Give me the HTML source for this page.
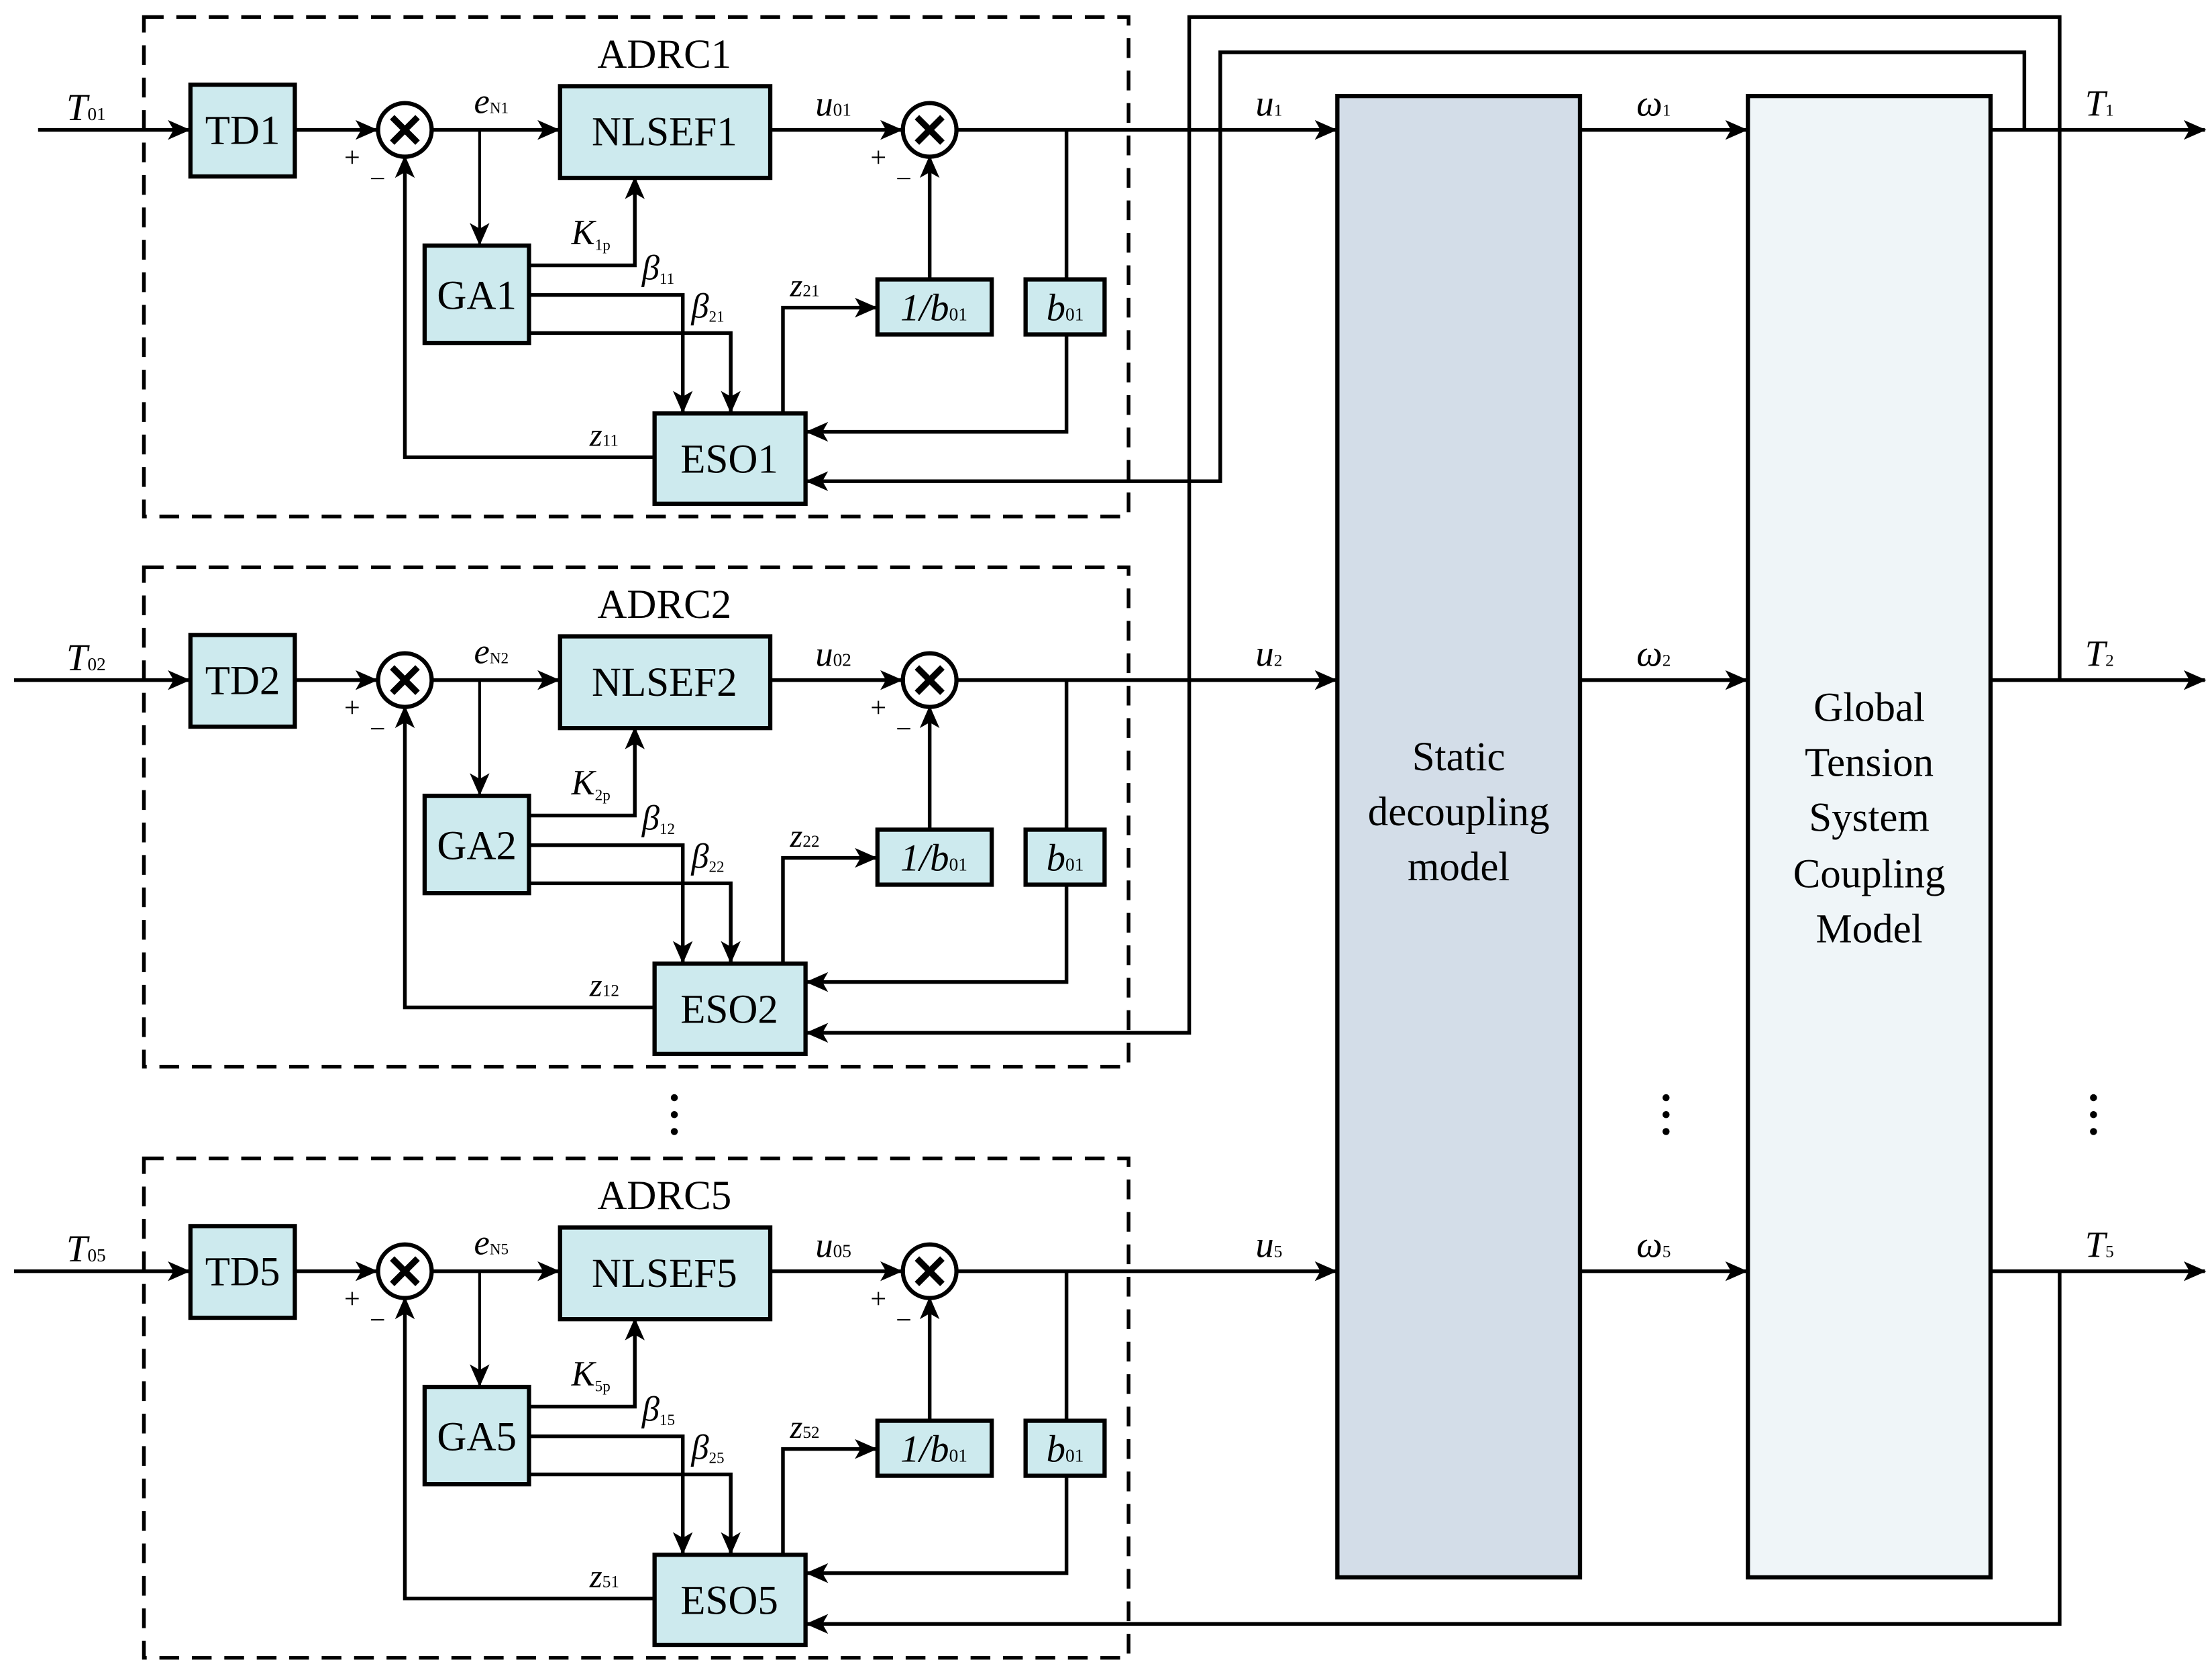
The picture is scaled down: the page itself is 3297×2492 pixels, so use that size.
<!DOCTYPE html>
<html><head><meta charset="utf-8"><style>
html,body{margin:0;padding:0;background:#fff;}
svg{display:block;}
svg text{font-family:"Liberation Serif","Times New Roman",serif;fill:#000;}
.it{font-style:italic;}
</style></head><body>
<svg width="3297" height="2492" viewBox="0 0 1568 1185" xmlns="http://www.w3.org/2000/svg" font-family="Liberation Serif, serif">
<defs>
<marker id="a" markerUnits="userSpaceOnUse" markerWidth="16" markerHeight="14" refX="15" refY="7" orient="auto">
<path d="M0,0 L16,7 L0,14 L4,7 Z" fill="#000"/>
</marker>
<g id="blk" fill="none" stroke="#000" stroke-width="2.6">
<rect x="102" y="12" width="698" height="354" stroke-dasharray="14,9" stroke-width="2.6"/>
<g fill="#cdeaee" stroke-width="3">
<rect x="135" y="60" width="74" height="65"/>
<rect x="397" y="61" width="149" height="65"/>
<rect x="301" y="174" width="74" height="69"/>
<rect x="464" y="293" width="107" height="64"/>
<rect x="622" y="198" width="81" height="39"/>
<rect x="727" y="198" width="56" height="39"/>
</g>
<circle cx="287" cy="92" r="19" fill="#fff" stroke-width="3"/>
<path d="M278,83 L296,101 M296,83 L278,101" stroke-width="4.5"/>
<circle cx="659" cy="92" r="19" fill="#fff" stroke-width="3"/>
<path d="M650,83 L668,101 M668,83 L650,101" stroke-width="4.5"/>
<path d="M209,92 H267" marker-end="url(#a)"/>
<path d="M306,92 H396" marker-end="url(#a)"/>
<path d="M546,92 H639" marker-end="url(#a)"/>
<path d="M678,92 H947" marker-end="url(#a)"/>
<path d="M340,92 V173" marker-end="url(#a)" stroke-width="2"/>
<path d="M375,188 H450 V126" marker-end="url(#a)"/>
<path d="M375,209 H484 V292" marker-end="url(#a)"/>
<path d="M375,236 H518 V292" marker-end="url(#a)"/>
<path d="M555,293 V218 H621" marker-end="url(#a)"/>
<path d="M464,324 H287 V111" marker-end="url(#a)"/>
<path d="M659,198 V111" marker-end="url(#a)"/>
<path d="M756,92 V198 M756,237 V306 H572" marker-end="url(#a)"/>
</g>
</defs>

<use href="#blk"/>
<use href="#blk" transform="translate(0,390)"/>
<use href="#blk" transform="translate(0,809)"/>

<g fill="none" stroke="#000" stroke-width="2.6">
<path d="M27,92 H134" marker-end="url(#a)"/>
<path d="M10,482 H134" marker-end="url(#a)"/>
<path d="M10,901 H134" marker-end="url(#a)"/>
<rect x="948" y="68" width="172" height="1050" fill="#d3dde8" stroke-width="3"/>
<rect x="1239" y="68" width="172" height="1050" fill="#eff5f8" stroke-width="3"/>
<path d="M1120,92 H1238" marker-end="url(#a)"/>
<path d="M1120,482 H1238" marker-end="url(#a)"/>
<path d="M1120,901 H1238" marker-end="url(#a)"/>
<path d="M1411,92 H1563" marker-end="url(#a)"/>
<path d="M1411,482 H1563" marker-end="url(#a)"/>
<path d="M1411,901 H1563" marker-end="url(#a)"/>
<path d="M1435,92 V37 H865 V341 H572" marker-end="url(#a)"/>
<path d="M1460,482 V12 H843 V732 H572" marker-end="url(#a)"/>
<path d="M1460,901 V1151 H572" marker-end="url(#a)"/>
</g>
<g fill="#000">
<circle cx="478" cy="778" r="2.5"/><circle cx="478" cy="790" r="2.5"/><circle cx="478" cy="802" r="2.5"/>
<circle cx="1181" cy="778" r="2.5"/><circle cx="1181" cy="790" r="2.5"/><circle cx="1181" cy="802" r="2.5"/>
<circle cx="1484" cy="778" r="2.5"/><circle cx="1484" cy="790" r="2.5"/><circle cx="1484" cy="802" r="2.5"/>
</g>

<g font-size="29" text-anchor="middle">
<text x="1034" y="546">Static</text>
<text x="1034" y="585">decoupling</text>
<text x="1034" y="624">model</text>
<text x="1325" y="511">Global</text>
<text x="1325" y="550">Tension</text>
<text x="1325" y="589">System</text>
<text x="1325" y="629">Coupling</text>
<text x="1325" y="668">Model</text>
</g>

<g font-size="26">
<text x="890" y="82" class="it">u<tspan font-size="12" font-style="normal">1</tspan></text>
<text x="890" y="472" class="it">u<tspan font-size="12" font-style="normal">2</tspan></text>
<text x="890" y="891" class="it">u<tspan font-size="12" font-style="normal">5</tspan></text>
<text x="1160" y="82" class="it">ω<tspan font-size="12" font-style="normal">1</tspan></text>
<text x="1160" y="472" class="it">ω<tspan font-size="12" font-style="normal">2</tspan></text>
<text x="1160" y="891" class="it">ω<tspan font-size="12" font-style="normal">5</tspan></text>
<text x="1478" y="82" class="it">T<tspan font-size="12" font-style="normal">1</tspan></text>
<text x="1478" y="472" class="it">T<tspan font-size="12" font-style="normal">2</tspan></text>
<text x="1478" y="891" class="it">T<tspan font-size="12" font-style="normal">5</tspan></text>
</g>

<g font-size="29">
<text x="471" y="48" text-anchor="middle">ADRC1</text>
<text x="172" y="102" text-anchor="middle">TD1</text>
<text x="471" y="103" text-anchor="middle">NLSEF1</text>
<text x="338" y="219" text-anchor="middle">GA1</text>
<text x="517" y="335" text-anchor="middle">ESO1</text>
<text x="662" y="227" text-anchor="middle" class="it" font-size="27">1/b<tspan font-size="13" font-style="normal">01</tspan></text>
<text x="755" y="227" text-anchor="middle" class="it" font-size="27">b<tspan font-size="13" font-style="normal">01</tspan></text>
<text x="47" y="85" class="it" font-size="27">T<tspan font-size="13" font-style="normal">01</tspan></text>
<text x="336" y="80" class="it" font-size="25">e<tspan font-size="11" font-style="normal">N1</tspan></text>
<text x="578" y="82" class="it" font-size="25">u<tspan font-size="13" font-style="normal">01</tspan></text>
<text x="405" y="173" class="it" font-size="25">K<tspan font-size="11" font-style="normal" dy="4">1p</tspan></text>
<text x="455" y="198" class="it" font-size="25">β<tspan font-size="11" font-style="normal" dy="3">11</tspan></text>
<text x="490" y="225" class="it" font-size="25">β<tspan font-size="11" font-style="normal" dy="3">21</tspan></text>
<text x="560" y="210" class="it" font-size="23">z<tspan font-size="12" font-style="normal">21</tspan></text>
<text x="418" y="316" class="it" font-size="23">z<tspan font-size="12" font-style="normal">11</tspan></text>
<text x="244" y="118" font-size="20">+</text><text x="262" y="133" font-size="20">−</text>
<text x="617" y="118" font-size="20">+</text><text x="635" y="133" font-size="20">−</text>
</g>
<g font-size="29" transform="translate(0,390)">
<text x="471" y="48" text-anchor="middle">ADRC2</text>
<text x="172" y="102" text-anchor="middle">TD2</text>
<text x="471" y="103" text-anchor="middle">NLSEF2</text>
<text x="338" y="219" text-anchor="middle">GA2</text>
<text x="517" y="335" text-anchor="middle">ESO2</text>
<text x="662" y="227" text-anchor="middle" class="it" font-size="27">1/b<tspan font-size="13" font-style="normal">01</tspan></text>
<text x="755" y="227" text-anchor="middle" class="it" font-size="27">b<tspan font-size="13" font-style="normal">01</tspan></text>
<text x="47" y="85" class="it" font-size="27">T<tspan font-size="13" font-style="normal">02</tspan></text>
<text x="336" y="80" class="it" font-size="25">e<tspan font-size="11" font-style="normal">N2</tspan></text>
<text x="578" y="82" class="it" font-size="25">u<tspan font-size="13" font-style="normal">02</tspan></text>
<text x="405" y="173" class="it" font-size="25">K<tspan font-size="11" font-style="normal" dy="4">2p</tspan></text>
<text x="455" y="198" class="it" font-size="25">β<tspan font-size="11" font-style="normal" dy="3">12</tspan></text>
<text x="490" y="225" class="it" font-size="25">β<tspan font-size="11" font-style="normal" dy="3">22</tspan></text>
<text x="560" y="210" class="it" font-size="23">z<tspan font-size="12" font-style="normal">22</tspan></text>
<text x="418" y="316" class="it" font-size="23">z<tspan font-size="12" font-style="normal">12</tspan></text>
<text x="244" y="118" font-size="20">+</text><text x="262" y="133" font-size="20">−</text>
<text x="617" y="118" font-size="20">+</text><text x="635" y="133" font-size="20">−</text>
</g>
<g font-size="29" transform="translate(0,809)">
<text x="471" y="48" text-anchor="middle">ADRC5</text>
<text x="172" y="102" text-anchor="middle">TD5</text>
<text x="471" y="103" text-anchor="middle">NLSEF5</text>
<text x="338" y="219" text-anchor="middle">GA5</text>
<text x="517" y="335" text-anchor="middle">ESO5</text>
<text x="662" y="227" text-anchor="middle" class="it" font-size="27">1/b<tspan font-size="13" font-style="normal">01</tspan></text>
<text x="755" y="227" text-anchor="middle" class="it" font-size="27">b<tspan font-size="13" font-style="normal">01</tspan></text>
<text x="47" y="85" class="it" font-size="27">T<tspan font-size="13" font-style="normal">05</tspan></text>
<text x="336" y="80" class="it" font-size="25">e<tspan font-size="11" font-style="normal">N5</tspan></text>
<text x="578" y="82" class="it" font-size="25">u<tspan font-size="13" font-style="normal">05</tspan></text>
<text x="405" y="173" class="it" font-size="25">K<tspan font-size="11" font-style="normal" dy="4">5p</tspan></text>
<text x="455" y="198" class="it" font-size="25">β<tspan font-size="11" font-style="normal" dy="3">15</tspan></text>
<text x="490" y="225" class="it" font-size="25">β<tspan font-size="11" font-style="normal" dy="3">25</tspan></text>
<text x="560" y="210" class="it" font-size="23">z<tspan font-size="12" font-style="normal">52</tspan></text>
<text x="418" y="316" class="it" font-size="23">z<tspan font-size="12" font-style="normal">51</tspan></text>
<text x="244" y="118" font-size="20">+</text><text x="262" y="133" font-size="20">−</text>
<text x="617" y="118" font-size="20">+</text><text x="635" y="133" font-size="20">−</text>
</g>
</svg>
</body></html>
